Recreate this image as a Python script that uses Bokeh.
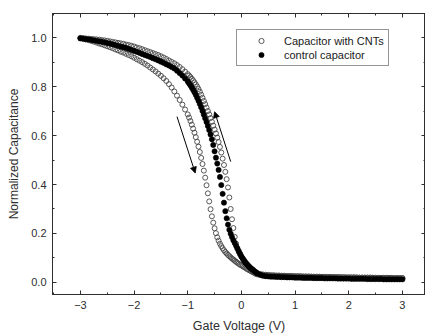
from bokeh.plotting import figure
from bokeh.models import (Range1d, LinearAxis, SingleIntervalTicker, PrintfTickFormatter,
                          CustomJSTickFormatter, Legend, LegendItem, Arrow, NormalHead)
from bokeh.embed import file_html
from bokeh.resources import INLINE

# ---------------- data (gate-voltage sweep grid, V) ----------------
volt_a = [-3.00, -2.95, -2.90, -2.85, -2.80, -2.75, -2.70, -2.65, -2.60, -2.55,
          -2.50, -2.45, -2.40, -2.35, -2.30, -2.25, -2.20, -2.15, -2.10, -2.05,
          -2.00, -1.95, -1.90, -1.85, -1.80, -1.75, -1.70, -1.65, -1.60, -1.55,
          -1.50, -1.45, -1.40, -1.35, -1.30, -1.25, -1.20, -1.15, -1.10, -1.05]
volt_b = [-1.000, -0.975, -0.950, -0.925, -0.900, -0.875, -0.850, -0.825, -0.800, -0.775,
          -0.750, -0.725, -0.700, -0.675, -0.650, -0.625, -0.600, -0.575, -0.550, -0.525,
          -0.500, -0.475, -0.450, -0.425, -0.400, -0.375, -0.350, -0.325, -0.300, -0.275,
          -0.250, -0.225, -0.200, -0.175, -0.150, -0.125, -0.100, -0.075, -0.050, -0.025,
          0.000, 0.025, 0.050, 0.075, 0.100, 0.125, 0.150, 0.175, 0.200, 0.225,
          0.250, 0.275]
volt_c = [0.30, 0.35, 0.40, 0.45, 0.50, 0.55, 0.60, 0.65, 0.70, 0.75,
          0.80, 0.85, 0.90, 0.95, 1.00, 1.05, 1.10, 1.15, 1.20, 1.25,
          1.30, 1.35, 1.40, 1.45, 1.50, 1.55, 1.60, 1.65, 1.70, 1.75,
          1.80, 1.85, 1.90, 1.95, 2.00, 2.05, 2.10, 2.15, 2.20, 2.25,
          2.30, 2.35, 2.40, 2.45, 2.50, 2.55, 2.60, 2.65, 2.70, 2.75,
          2.80, 2.85, 2.90, 2.95, 3.00]

# Capacitor with CNTs, sweep toward positive voltage (left branch)
cnt_fwd_a = [1.000, 0.997, 0.994, 0.991, 0.988, 0.985, 0.981, 0.977, 0.974, 0.970,
             0.966, 0.962, 0.958, 0.953, 0.949, 0.944, 0.940, 0.935, 0.930, 0.925,
             0.919, 0.913, 0.907, 0.901, 0.894, 0.887, 0.879, 0.871, 0.863, 0.854,
             0.845, 0.835, 0.824, 0.811, 0.797, 0.781, 0.764, 0.746, 0.727, 0.707]
cnt_fwd_b = [0.687, 0.674, 0.660, 0.645, 0.629, 0.612, 0.594, 0.575, 0.555, 0.533,
             0.509, 0.484, 0.457, 0.428, 0.397, 0.364, 0.331, 0.299, 0.270, 0.244,
             0.221, 0.201, 0.184, 0.170, 0.158, 0.148, 0.139, 0.131, 0.124, 0.118,
             0.112, 0.107, 0.102, 0.097, 0.093, 0.088, 0.084, 0.080, 0.076, 0.072,
             0.069, 0.066, 0.062, 0.059, 0.055, 0.052, 0.049, 0.046, 0.043, 0.040,
             0.037, 0.034]
cnt_fwd_c = [0.032, 0.030, 0.029, 0.028, 0.028, 0.027, 0.027, 0.026, 0.026, 0.026,
             0.025, 0.025, 0.025, 0.024, 0.024, 0.024, 0.024, 0.023, 0.023, 0.023,
             0.023, 0.022, 0.022, 0.022, 0.022, 0.022, 0.021, 0.021, 0.021, 0.021,
             0.021, 0.020, 0.020, 0.020, 0.020, 0.020, 0.020, 0.019, 0.019, 0.019,
             0.019, 0.019, 0.019, 0.018, 0.018, 0.018, 0.018, 0.018, 0.018, 0.018,
             0.017, 0.017, 0.017, 0.017, 0.017]

# Capacitor with CNTs, sweep back toward negative voltage (right branch)
cnt_rev_a = [1.000, 0.999, 0.998, 0.997, 0.996, 0.995, 0.994, 0.993, 0.991, 0.990,
             0.988, 0.986, 0.984, 0.982, 0.980, 0.978, 0.976, 0.973, 0.971, 0.968,
             0.965, 0.961, 0.958, 0.954, 0.950, 0.946, 0.942, 0.938, 0.934, 0.930,
             0.925, 0.920, 0.914, 0.908, 0.902, 0.896, 0.889, 0.881, 0.872, 0.862]
cnt_rev_b = [0.852, 0.846, 0.840, 0.833, 0.826, 0.818, 0.810, 0.801, 0.791, 0.780,
             0.768, 0.755, 0.742, 0.729, 0.715, 0.701, 0.687, 0.672, 0.657, 0.641,
             0.625, 0.609, 0.592, 0.574, 0.554, 0.531, 0.506, 0.480, 0.452, 0.422,
             0.388, 0.347, 0.300, 0.258, 0.222, 0.186, 0.158, 0.138, 0.124, 0.114,
             0.105, 0.097, 0.090, 0.083, 0.076, 0.070, 0.064, 0.058, 0.053, 0.048,
             0.044, 0.040]
cnt_rev_c = [0.037, 0.034, 0.032, 0.031, 0.030, 0.029, 0.029, 0.028, 0.028, 0.027,
             0.027, 0.026, 0.026, 0.026, 0.025, 0.025, 0.025, 0.024, 0.024, 0.024,
             0.023, 0.023, 0.023, 0.023, 0.022, 0.022, 0.022, 0.022, 0.021, 0.021,
             0.021, 0.021, 0.021, 0.020, 0.020, 0.020, 0.020, 0.020, 0.019, 0.019,
             0.019, 0.019, 0.019, 0.019, 0.018, 0.018, 0.018, 0.018, 0.018, 0.018,
             0.018, 0.017, 0.017, 0.017, 0.017]

# control capacitor
ctrl_a = [0.998, 0.997, 0.995, 0.994, 0.992, 0.990, 0.988, 0.986, 0.984, 0.982,
          0.979, 0.977, 0.974, 0.971, 0.968, 0.965, 0.962, 0.959, 0.955, 0.951,
          0.947, 0.943, 0.939, 0.934, 0.930, 0.926, 0.922, 0.917, 0.913, 0.908,
          0.903, 0.898, 0.892, 0.887, 0.881, 0.875, 0.866, 0.856, 0.846, 0.834]
ctrl_b = [0.822, 0.814, 0.806, 0.797, 0.788, 0.778, 0.767, 0.755, 0.743, 0.730,
          0.716, 0.701, 0.686, 0.671, 0.656, 0.640, 0.623, 0.605, 0.585, 0.562,
          0.536, 0.510, 0.486, 0.460, 0.431, 0.398, 0.362, 0.326, 0.291, 0.262,
          0.236, 0.215, 0.199, 0.185, 0.172, 0.161, 0.150, 0.139, 0.128, 0.117,
          0.106, 0.097, 0.088, 0.080, 0.073, 0.067, 0.062, 0.057, 0.053, 0.049,
          0.044, 0.040]
ctrl_c = [0.036, 0.031, 0.027, 0.025, 0.024, 0.023, 0.023, 0.022, 0.022, 0.021,
          0.021, 0.020, 0.020, 0.020, 0.019, 0.019, 0.019, 0.018, 0.018, 0.018,
          0.018, 0.017, 0.017, 0.017, 0.017, 0.016, 0.016, 0.016, 0.016, 0.016,
          0.015, 0.015, 0.015, 0.015, 0.015, 0.014, 0.014, 0.014, 0.014, 0.014,
          0.014, 0.013, 0.013, 0.013, 0.013, 0.013, 0.013, 0.012, 0.012, 0.012,
          0.012, 0.012, 0.012, 0.012, 0.012]

series_labels = ["Capacitor with CNTs", "control capacitor"]
x_title = "Gate Voltage (V)"
y_title = "Normalized Capacitance"

# sweep-direction arrows (data units)
arrow_x0 = [-1.20, -0.20]
arrow_y0 = [0.678, 0.494]
arrow_x1 = [-0.86, -0.50]
arrow_y1 = [0.447, 0.698]

volt = volt_a + volt_b + volt_c
cnt_fwd = cnt_fwd_a + cnt_fwd_b + cnt_fwd_c
cnt_rev = cnt_rev_a + cnt_rev_b + cnt_rev_c
ctrl = ctrl_a + ctrl_b + ctrl_c

# ---------------- figure ----------------
FONT = "Liberation Sans"
INK = "#2e2e2e"

p = figure(width=425, height=335, output_backend="svg", toolbar_location=None,
           x_range=Range1d(-3.52, 3.43), y_range=Range1d(-0.05, 1.10),
           min_border_left=52, min_border_top=13, min_border_right=0, min_border_bottom=40)
p.xgrid.visible = False
p.ygrid.visible = False
p.outline_line_color = INK
p.outline_line_width = 1
p.background_fill_color = "white"
p.border_fill_color = "white"

r_fwd = p.scatter(volt, cnt_fwd, marker="circle", size=5, fill_color=None,
                  line_color="#454545", line_width=0.9)
r_rev = p.scatter(volt, cnt_rev, marker="circle", size=5, fill_color=None,
                  line_color="#454545", line_width=0.9)
r_ctrl = p.scatter(volt, ctrl, marker="circle", size=5.2, fill_color="black",
                   line_color="black", line_width=0.6)

def style_axis(ax, labels=True):
    ax.axis_line_color = INK
    ax.major_tick_line_color = INK
    ax.minor_tick_line_color = INK
    ax.major_tick_in = 4
    ax.major_tick_out = 0
    ax.minor_tick_in = 2
    ax.minor_tick_out = 0
    if labels:
        ax.major_label_text_font = FONT
        ax.major_label_text_font_size = "11px"
        ax.major_label_text_color = INK
        ax.major_label_standoff = 6
        ax.axis_label_text_font = FONT
        ax.axis_label_text_font_size = "12px"
        ax.axis_label_text_font_style = "normal"
        ax.axis_label_text_color = INK
        ax.axis_label_standoff = 7
    else:
        ax.formatter = CustomJSTickFormatter(code="return ''")
        ax.major_label_text_font_size = "1px"
        ax.major_label_standoff = 0
        ax.axis_label = None

xt = SingleIntervalTicker(interval=1, num_minor_ticks=2)
yt = SingleIntervalTicker(interval=0.2, num_minor_ticks=2)

p.xaxis.ticker = xt
p.xaxis.axis_label = x_title
style_axis(p.xaxis[0])
p.xaxis.axis_label_text_font_size = "12.5px"

p.yaxis.ticker = yt
p.yaxis.formatter = PrintfTickFormatter(format="%.1f")
p.yaxis.axis_label = y_title
style_axis(p.yaxis[0])

top = LinearAxis(ticker=SingleIntervalTicker(interval=1, num_minor_ticks=2))
style_axis(top, labels=False)
p.add_layout(top, "above")
right = LinearAxis(ticker=SingleIntervalTicker(interval=0.2, num_minor_ticks=2))
style_axis(right, labels=False)
p.add_layout(right, "right")

for xs, ys, xe, ye in zip(arrow_x0, arrow_y0, arrow_x1, arrow_y1):
    p.add_layout(Arrow(end=NormalHead(size=6, fill_color="black", line_color="black", line_width=0.8),
                       x_start=xs, y_start=ys, x_end=xe, y_end=ye,
                       line_color="black", line_width=1))

legend = Legend(items=[LegendItem(label=series_labels[0], renderers=[r_fwd]),
                       LegendItem(label=series_labels[1], renderers=[r_ctrl])],
                location=(184, 228))
legend.border_line_color = INK
legend.border_line_width = 1
legend.background_fill_color = "white"
legend.background_fill_alpha = 1
legend.label_text_font = FONT
legend.label_text_font_size = "11px"
legend.label_text_color = "#1a1a1a"
legend.padding = 4
legend.spacing = 1
legend.margin = 0
legend.glyph_width = 40
legend.glyph_height = 13
legend.label_height = 13
legend.label_standoff = 3
p.add_layout(legend)

open("out.html", "w").write(file_html(p, INLINE))
